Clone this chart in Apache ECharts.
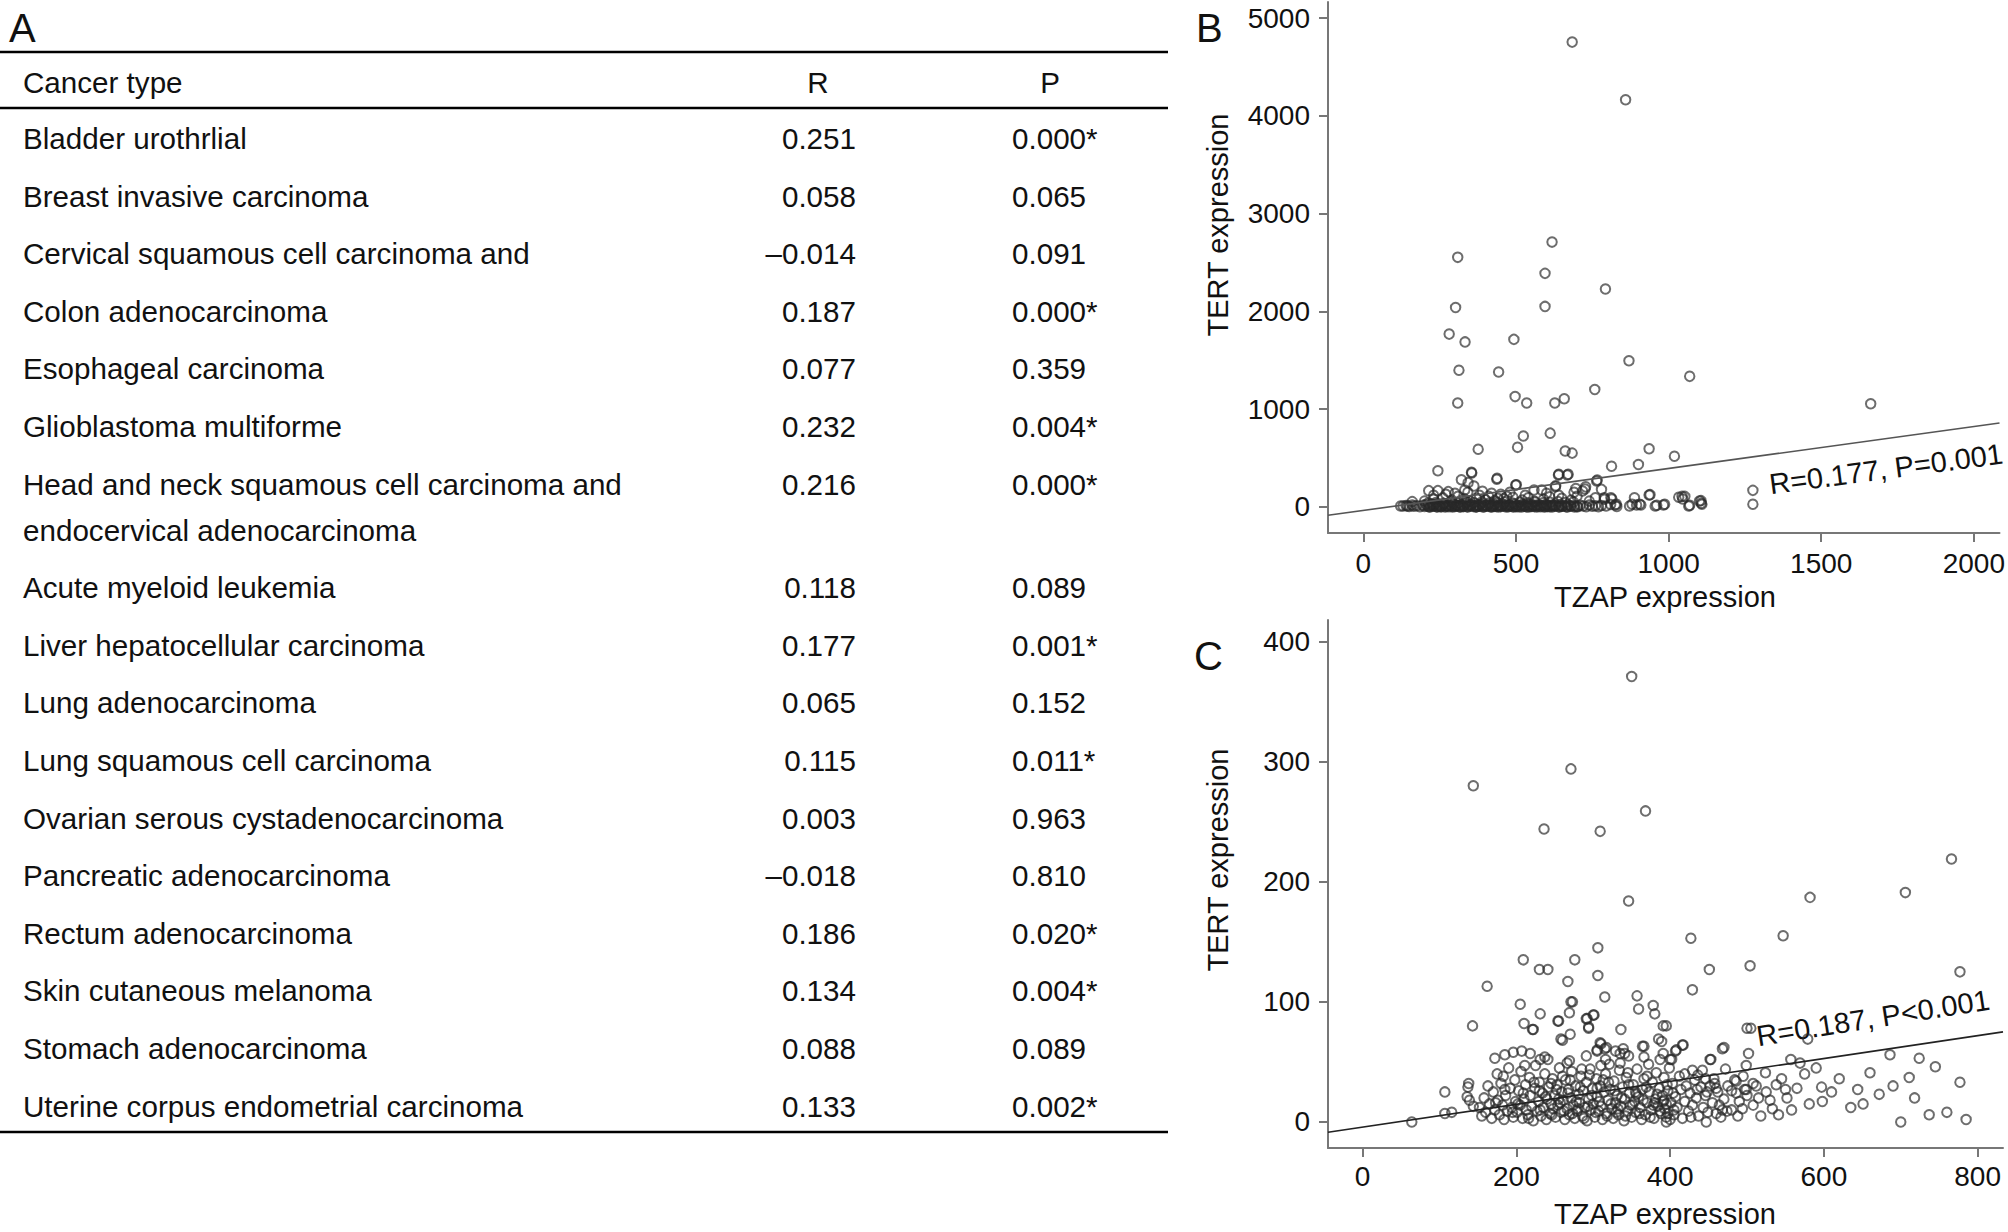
<!DOCTYPE html>
<html>
<head>
<meta charset="utf-8">
<script src="https://cdn.jsdelivr.net/npm/echarts@6/dist/echarts.min.js"></script>
<style>
html,body{margin:0;padding:0;background:#fff;}
#main{width:2008px;height:1232px;}
</style>
</head>
<body>
<div id="main"></div>
<script>
// ---------- Table (panel A) ----------
const cancerTypes = [
  "Bladder urothrlial",
  "Breast invasive carcinoma",
  "Cervical squamous cell carcinoma and",
  "Colon adenocarcinoma",
  "Esophageal carcinoma",
  "Glioblastoma multiforme",
  "Head and neck squamous cell carcinoma and\nendocervical adenocarcinoma",
  "Acute myeloid leukemia",
  "Liver hepatocellular carcinoma",
  "Lung adenocarcinoma",
  "Lung squamous cell carcinoma",
  "Ovarian serous cystadenocarcinoma",
  "Pancreatic adenocarcinoma",
  "Rectum adenocarcinoma",
  "Skin cutaneous melanoma",
  "Stomach adenocarcinoma",
  "Uterine corpus endometrial carcinoma"
];
const rValues = ["0.251","0.058","–0.014","0.187","0.077","0.232","0.216","0.118","0.177","0.065","0.115","0.003","–0.018","0.186","0.134","0.088","0.133"];
const pValues = ["0.000*","0.065","0.091","0.000*","0.359","0.004*","0.000*","0.089","0.001*","0.152","0.011*","0.963","0.810","0.020*","0.004*","0.089","0.002*"];
const tableHeaders = ["Cancer type","R","P"];
const panelLabels = ["A","B","C"];

// ---------- Panel B: TZAP vs TERT ----------
const xTicksB = [0,500,1000,1500,2000];
const yTicksB = [0,1000,2000,3000,4000,5000];
const pointsB = [
  [684,4754],[859,4165],[618,2709],[309,2553],[595,2389],[793,2229],[302,2040],[595,2051],
  [281,1768],[333,1688],[493,1714],[313,1398],[443,1380],[870,1496],[1069,1336],[758,1202],
  [497,1129],[535,1064],[627,1064],[658,1107],[309,1064],[1662,1056],[524,726],[612,755],
  [505,610],[376,591],[661,573],[684,551],[936,595],[1019,519],[813,417],[901,435],
  [244,370],[355,348],[321,279],[438,294],[640,334],[671,334],[766,275],[630,217],
  [501,228],[1276,170],[1276,28],[728,206],[696,188],
  [880,28],[905,28],[961,17],[987,28],[1069,17],[1109,28],[1106,65],[1044,108],[1053,108],
  [939,126],[888,94],[811,94],[829,28],[789,94],[1101,61],[1107,38],[1066,10],[1033,99],
  [1046,82],[936,123],[956,10],[983,20],[872,10],[895,20],[909,20],[825,20],[790,79],[814,82],
  [122,10],[144,10],[160,55],[214,167],[244,167],[278,157],[332,174],[362,215],[342,150],
  [380,120],[420,140],[440,90],[470,110],[499,225],[559,174],[584,174],[629,208],[639,327],
  [668,327],[718,164],[726,184],[764,266],[354,355],[343,249],[437,283],
  [200,60],[230,80],[260,95],[290,70],[310,110],[330,85],[350,60],[370,90],[400,75],[430,65],
  [460,85],[490,100],[520,70],[540,95],[560,60],[590,80],[610,105],[650,90],[680,70],[700,110],
  [740,60],[760,95],[230,120],[270,130],[300,140],[390,160],[410,110],[450,130],[480,150],
  [530,120],[600,140],[640,120],[690,150],[780,180],
  [130,10],[140,15],[150,5],[160,20],[165,8],[175,12],[185,3],[195,18],[200,6],[205,25],
  [210,10],[215,2],[220,14],[225,30],[230,7],[235,19],[240,4],[245,22],[250,11],[255,1],
  [260,16],[265,27],[270,8],[275,13],[280,3],[285,21],[290,9],[295,32],[300,5],[305,17],
  [310,12],[315,2],[320,24],[325,8],[330,15],[335,35],[340,4],[345,19],[350,10],[355,26],
  [360,6],[365,14],[370,1],[375,20],[380,9],[385,30],[390,12],[395,3],[400,18],[405,7],
  [410,23],[415,11],[420,2],[425,15],[430,28],[435,6],[440,13],[445,20],[450,4],[455,10],
  [460,25],[465,8],[470,16],[475,2],[480,21],[485,12],[490,5],[495,30],[500,9],[505,17],
  [510,3],[515,14],[520,24],[525,7],[530,11],[535,1],[540,19],[545,8],[550,27],[555,13],
  [560,4],[565,16],[570,9],[575,22],[580,2],[585,12],[590,18],[595,6],[600,25],[605,10],
  [610,3],[615,15],[620,20],[625,7],[630,12],[640,4],[645,18],[650,9],[660,14],[665,2],
  [670,22],[680,8],[690,13],[700,5],[710,17],[720,10],[730,3],[740,20],[750,7],[760,12],
  [770,2],[780,15],[795,10],[810,25],[830,5],
  [212,40],[238,45],[262,38],[288,48],[312,42],[338,52],[362,44],[388,50],[412,40],[438,46],
  [462,52],[488,41],[512,48],[538,44],[562,50],[588,42],[612,47],[638,55],[662,45],[688,50],
  [218,0],[242,0],[268,0],[292,0],[318,0],[342,0],[368,0],[392,0],[418,0],[442,0],
  [468,0],[492,0],[518,0],[542,0],[568,0],[592,0],[618,0],[642,0],[668,0],[692,0],
  [228,12],[252,6],[278,18],[302,10],[328,4],[352,16],[378,8],[402,12],[428,5],[452,14],
  [478,9],[502,3],[528,16],[552,6],[578,11],[602,4],[628,15],[652,7],[678,12],[702,3]
];
const fitLineB = [[-116,-85],[2084,859]];
const annotB = "R=0.177, P=0.001";

// ---------- Panel C: TZAP vs TERT ----------
const xTicksC = [0,200,400,600,800];
const yTicksC = [0,100,200,300,400];
const pointsC = [
  [350,371],[271,294],[144,280],[368,259],[236,244],[309,242],[766,219],[346,184],[706,191],
  [582,187],[306,145],[427,153],[547,155],[209,135],[230,127],[241,127],[276,135],[306,122],
  [267,117],[162,113],[451,127],[504,130],[777,125],[429,110],[205,98],[231,90],[271,100],
  [315,104],[357,105],[359,94],[378,97],[380,90],[301,89],[291,86],[255,84],[269,91],[143,80],
  [210,82],[222,77],[294,79],[336,77],[391,80],[395,80],[270,73],[258,69],[260,68],[505,78],
  [579,69],[385,69],[389,67],[310,65],[317,62],[366,63],[417,64],[470,62],[407,59],[402,52],
  [172,53],[185,56],[196,58],[207,59],[218,57],[231,52],[237,54],[269,51],[305,60],[502,57],
  [453,52],[557,52],[569,49],[686,56],[724,53],[711,37],[777,33],[644,27],[651,15],[597,29],
  [550,27],[581,15],[524,41],[486,34],[499,27],[508,32],[515,20],[494,11],[533,11],[541,6],
  [700,0],[737,6],[447,0],[460,7],[474,9],[468,10],[64,0],[107,7],[116,8],[107,25],[137,29],
  [138,32],[136,21],[139,18],[144,13],[429,43],[436,39],[446,36],[452,30],[460,28],[448,25],
  [392,18],[395,15],[397,7],[395,0],[387,52],[400,52],[408,60],[416,64],[468,61],[452,52],
  [484,35],[497,27],[499,47],[500,78],[309,66],[315,61],[305,59],[329,59],[335,57],[339,61],
  [346,55],[364,63],[292,86],[300,89],[294,78],[273,100],[221,77],[254,84],
  [152,12],[155,5],[158,20],[160,8],[163,30],[165,15],[168,3],[170,25],[172,10],[175,40],
  [176,18],[178,6],[180,32],[182,14],[184,2],[186,22],[188,9],[190,45],[192,28],[194,12],
  [196,4],[198,35],[199,17],[201,8],[203,26],[205,14],[206,42],[208,3],[210,19],[212,31],
  [213,10],[215,6],[217,37],[218,22],[220,13],[222,1],[224,28],[225,47],[227,9],[229,17],
  [230,33],[232,5],[234,24],[235,12],[237,40],[239,2],[240,19],[242,29],[244,7],[245,15],
  [247,36],[248,11],[250,22],[251,4],[253,31],[254,14],[256,45],[258,8],[259,25],[261,18],
  [263,2],[264,35],[266,11],[268,27],[269,6],[271,20],[272,42],[274,14],[276,3],[277,30],
  [279,9],[281,23],[282,16],[284,38],[286,5],[287,26],[289,12],[291,33],[292,1],[294,19],
  [296,44],[297,10],[299,28],[300,15],[302,4],[304,36],[305,21],[307,9],[309,30],[310,13],
  [312,2],[314,25],[316,40],[317,7],[319,18],[321,48],[322,27],[324,11],[326,3],[327,34],
  [329,16],[331,22],[333,6],[334,43],[336,13],[338,29],[340,1],[341,19],[343,37],[345,9],
  [347,24],[348,14],[350,4],[352,31],[354,17],[355,8],[357,44],[359,21],[361,12],[363,2],
  [364,27],[366,36],[368,6],[370,16],[372,48],[373,25],[375,10],[377,33],[379,3],[381,19],
  [382,41],[384,13],[386,28],[388,7],[390,22],[392,37],[393,11],[395,4],[397,26],[399,45],
  [401,16],[403,32],[405,6],[407,21],[409,12],[412,38],[414,27],[416,3],[419,17],[421,30],
  [424,9],[426,24],[429,14],[432,35],[434,20],[437,5],[440,29],[443,12],[446,22],
  [455,16],[458,32],[462,25],[466,4],[470,19],[475,30],[480,10],[486,24],[490,17],[495,38],
  [500,22],[508,14],[512,30],[518,5],[525,25],[530,18],[538,31],[545,36],[552,20],[558,10],
  [565,28],[575,40],[590,45],[598,17],[610,25],[620,36],[635,12],[660,41],[672,23],[690,30],
  [718,20],[745,46],[760,8],[785,2],
  [202,15],[209,24],[216,3],[223,33],[231,10],[238,21],[246,6],[252,27],[257,16],[262,9],
  [267,24],[273,7],[278,17],[283,29],[288,3],[293,13],[298,22],[303,8],[308,17],[313,35],
  [318,5],[323,15],[328,26],[332,11],[337,20],[342,5],[346,31],[351,14],[356,23],[360,7],
  [365,18],[369,29],[374,4],[378,14],[383,23],[387,9],[391,17],[396,31],[400,2],[404,24],
  [260,38],[285,44],[310,47],[335,49],[245,32],[270,35],[295,39],[320,33],[345,41],[370,38],
  [230,26],[255,19],[280,11],[305,28],[330,8],[355,25],[380,16],[405,10],[185,27],[195,8],
  [173,16],[183,38],[211,47],[241,52],[266,49],[291,55],[316,52],[341,57],[366,54],[391,57],
  [419,40],[427,4],[435,27],[442,43],[449,8],[457,36],[464,14],[472,44],[480,26],[488,5]
];
const fitLineC = [[-45,-8.6],[833,75]];
const annotC = "R=0.187, P<0.001";

const axisTitleX = "TZAP expression";
const axisTitleY = "TERT expression";

// ---------- layout helpers ----------
const FONT = '"Liberation Sans", Arial, Helvetica, sans-serif';
const TXT = '#111';
const AX = '#777';
const TFS = 29.6;

const graphics = [];
function addText(text, x, y, size, align, extra) {
  graphics.push(Object.assign({
    type: 'text', x: x, y: y, silent: true,
    style: { text: text, fill: TXT, font: size + 'px ' + FONT, align: align || 'left', verticalAlign: 'middle' }
  }, extra || {}));
}
function addLine(x1, y1, x2, y2, w) {
  graphics.push({ type: 'line', silent: true, shape: { x1: x1, y1: y1, x2: x2, y2: y2 },
    style: { stroke: '#000', lineWidth: w } });
}

addText(panelLabels[0], 9, 28, 40, 'left');
addText(panelLabels[1], 1196, 28, 40, 'left');
addText(panelLabels[2], 1194, 656, 40, 'left');

const tableRight = 1168;
addLine(0, 52, tableRight, 52, 2.6);
addLine(0, 108, tableRight, 108, 2.4);
addLine(0, 1132, tableRight, 1132, 2.4);
addText(tableHeaders[0], 23, 82, TFS, 'left');
addText(tableHeaders[1], 818, 82, TFS, 'center');
addText(tableHeaders[2], 1050, 82, TFS, 'center');
let extraOffset = 0;
cancerTypes.forEach(function (name, i) {
  const y = 138.5 + i * 57.6 + extraOffset;
  const lines = name.split('\n');
  lines.forEach(function (ln, k) { addText(ln, 23, y + k * 46, TFS, 'left'); });
  addText(rValues[i], 856, y, TFS, 'right');
  addText(pValues[i], 1012, y, TFS, 'left');
  extraOffset += (lines.length - 1) * 46;
});

addText(axisTitleY, 1218, 225, 29, 'center', { rotation: Math.PI / 2 });
addText(axisTitleX, 1665, 597, 29, 'center');
addText(axisTitleY, 1218, 860, 29, 'center', { rotation: Math.PI / 2 });
addText(axisTitleX, 1665, 1214, 29, 'center');
addText(annotB, 1886, 469, 29, 'center', { rotation: 7.5 * Math.PI / 180 });
addText(annotC, 1873, 1018, 29, 'center', { rotation: 9 * Math.PI / 180 });

function valueAxis(gridIndex, min, max, ticks, margin) {
  return {
    type: 'value', gridIndex: gridIndex, min: min, max: max, scale: true,
    axisLine: { show: true, onZero: false, lineStyle: { color: AX, width: 2 } },
    axisTick: { show: true, length: 9, inside: false, customValues: ticks, lineStyle: { color: AX, width: 2 } },
    axisLabel: { show: true, customValues: ticks, color: TXT, fontSize: 28, fontFamily: FONT, margin: margin,
      formatter: function (v) { return String(v); } },
    splitLine: { show: false }, minorTick: { show: false }
  };
}

function scatter(idx, data) {
  return {
    type: 'scatter', xAxisIndex: idx, yAxisIndex: idx, data: data,
    symbol: 'circle', symbolSize: 9.5, silent: true,
    itemStyle: { color: 'rgba(0,0,0,0)', borderColor: 'rgba(40,40,40,0.85)', borderWidth: 2 }
  };
}
function fit(idx, data, color) {
  return {
    type: 'line', xAxisIndex: idx, yAxisIndex: idx, data: data, symbol: 'none', silent: true,
    lineStyle: { color: color, width: 1.6 }, z: 3
  };
}

const chart = echarts.init(document.getElementById('main'), null, { renderer: 'svg', width: 2008, height: 1232 });
chart.setOption({
  animation: false,
  backgroundColor: '#fff',
  grid: [
    { left: 1328, top: 2, width: 680, height: 531 },
    { left: 1328, top: 620, width: 675, height: 528 }
  ],
  xAxis: [
    valueAxis(0, -116, 2084, xTicksB, 16),
    valueAxis(1, -45, 833, xTicksC, 14)
  ],
  yAxis: [
    valueAxis(0, -266, 5164, yTicksB, 18),
    valueAxis(1, -21.7, 418, yTicksC, 18)
  ],
  series: [
    scatter(0, pointsB), fit(0, fitLineB, '#555'),
    scatter(1, pointsC), fit(1, fitLineC, '#222')
  ],
  graphic: graphics
});
</script>
</body>
</html>
